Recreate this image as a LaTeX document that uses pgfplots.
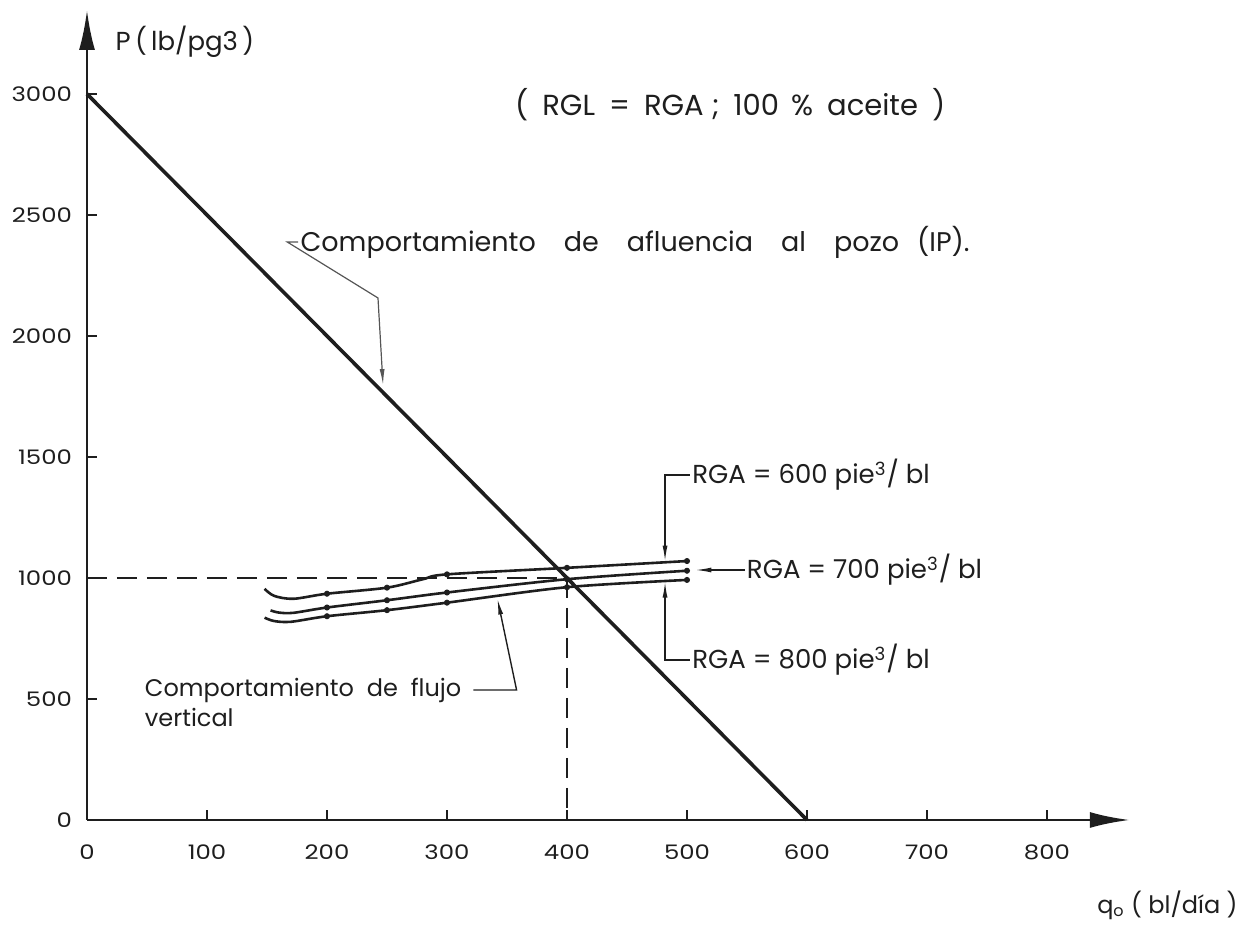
\documentclass[border=0pt]{standalone}
\usepackage{fontspec}
\setmainfont{Poppins}
\newfontfamily\tickfont[FakeStretch=1.22]{Poppins}
\usepackage{pgfplots}
\pgfplotsset{compat=1.18}
\usetikzlibrary{arrows.meta}
\definecolor{ink}{HTML}{1E1E1E}
\definecolor{lead}{HTML}{555555}

\pgfplotstableread{
x y
148 955
156 926
172 914
200 935
250 960
280 995
300 1015
400 1042
500 1070
}\rgaseis
\pgfplotstableread{
x y
153 866
160 857
172 856
200 878
250 908
300 940
400 995
500 1030
}\rgasiete
\pgfplotstableread{
x y
148 836
156 822
170 819
200 842
250 867
300 898
400 962
500 992
}\rgaocho

\begin{document}
\begin{tikzpicture}
\useasboundingbox (-43.5pt,-53pt) rectangle (578.5pt,410pt);
\begin{axis}[
  scale only axis, width=521.4pt, height=405pt,
  xmin=0, xmax=869, ymin=0, ymax=3347,
  axis lines=left,
  axis line style={ink, line width=1.4pt},
  x axis line style={-{Latex[length=20pt,width=8pt]}},
  y axis line style={-{Latex[length=20pt,width=8pt]}},
  xtick={0,100,...,800}, ytick={0,500,...,3000},
  tick align=inside, major tick length=5pt,
  tick style={ink, line width=1pt},
  /pgf/number format/assume math mode=true,
  /pgf/number format/1000 sep={},
  ticklabel style={font=\tickfont\fontsize{10}{12}\selectfont, text=ink},
  xticklabel style={yshift=-9pt},
  yticklabel style={xshift=-4pt},
  clip=false,
]
\addplot[ink, line width=0.9pt, dash pattern=on 10pt off 5pt] coordinates {(0,1000) (400,1000) (400,0)};
\addplot[ink, line width=1.8pt] coordinates {(0,3000) (600,0)};
\addplot[ink, line width=1.3pt, smooth, tension=0.5] table[x=x,y=y] {\rgaseis};
\addplot[ink, line width=1.3pt, smooth, tension=0.5] table[x=x,y=y] {\rgasiete};
\addplot[ink, line width=1.3pt, smooth, tension=0.5] table[x=x,y=y] {\rgaocho};
\addplot[ink, only marks, mark=*, mark size=1.3pt] coordinates {
 (200,935) (250,960) (300,1015) (400,1042) (500,1070)
 (200,878) (250,908) (300,940) (400,995) (500,1030)
 (200,842) (250,867) (300,898) (400,962) (500,992)};

% axis titles
\node[anchor=west, font=\fontsize{13}{15}\selectfont, text=ink] at (axis cs:18,3215) {P\,(\,lb/pg3\,)};
\node[anchor=west, font=\fontsize{12}{14}\selectfont, text=ink] at (axis cs:836,-351) {q\textsubscript{o} ( bl/día )};

% title note
\node[font=\fontsize{14.5}{16}\selectfont, text=ink] at (axis cs:536,2955) {(\hspace{7pt}RGL\hspace{7pt}=\hspace{7pt}RGA\hspace{4pt};\hspace{7pt}100\hspace{6pt}\%\hspace{7pt}aceite\hspace{7pt})};

% IP annotation
\draw[lead, line width=0.6pt, -{Latex[length=8pt,width=2.5pt]}] (axis cs:176,2388) -- (axis cs:167,2388) -- (axis cs:242.5,2157) -- (axis cs:246.7,1797);
\node[anchor=west, inner sep=1pt, font=\fontsize{13.5}{15}\selectfont, text=ink] at (axis cs:176,2388) {Comportamiento\hspace{14pt}de\hspace{14pt}afluencia\hspace{14pt}al\hspace{14pt}pozo\hspace{9pt}(IP).};

% RGA labels
\draw[ink, line width=0.7pt, -{Latex[length=8pt,width=2.5pt]}] (axis cs:502.5,1426) -- (axis cs:481.7,1426) -- (axis cs:481.7,1068);
\node[anchor=west, inner sep=1pt, font=\fontsize{13}{15}\selectfont, text=ink] at (axis cs:502.5,1426) {RGA = 600 pie\textsuperscript{3}/ bl};
\draw[ink, line width=0.7pt, -{Latex[length=8pt,width=2.5pt]}] (axis cs:548,1033) -- (axis cs:507,1033);
\node[anchor=west, inner sep=1pt, font=\fontsize{13}{15}\selectfont, text=ink] at (axis cs:548,1033) {RGA = 700 pie\textsuperscript{3}/ bl};
\draw[ink, line width=0.7pt, -{Latex[length=8pt,width=2.5pt]}] (axis cs:502.5,661) -- (axis cs:481.7,661) -- (axis cs:481.7,985);
\node[anchor=west, inner sep=1pt, font=\fontsize{13}{15}\selectfont, text=ink] at (axis cs:502.5,661) {RGA = 800 pie\textsuperscript{3}/ bl};

% vertical flow annotation
\draw[ink, line width=0.7pt, -{Latex[length=8pt,width=2.5pt]}] (axis cs:322,537) -- (axis cs:358,537) -- (axis cs:342,915);
\node[anchor=north west, align=left, inner sep=0pt, font=\fontsize{12}{15}\selectfont, text=ink] at (axis cs:48,587) {Comportamiento\ \ de\ \ flujo\\vertical};
\end{axis}
\end{tikzpicture}
\end{document}
